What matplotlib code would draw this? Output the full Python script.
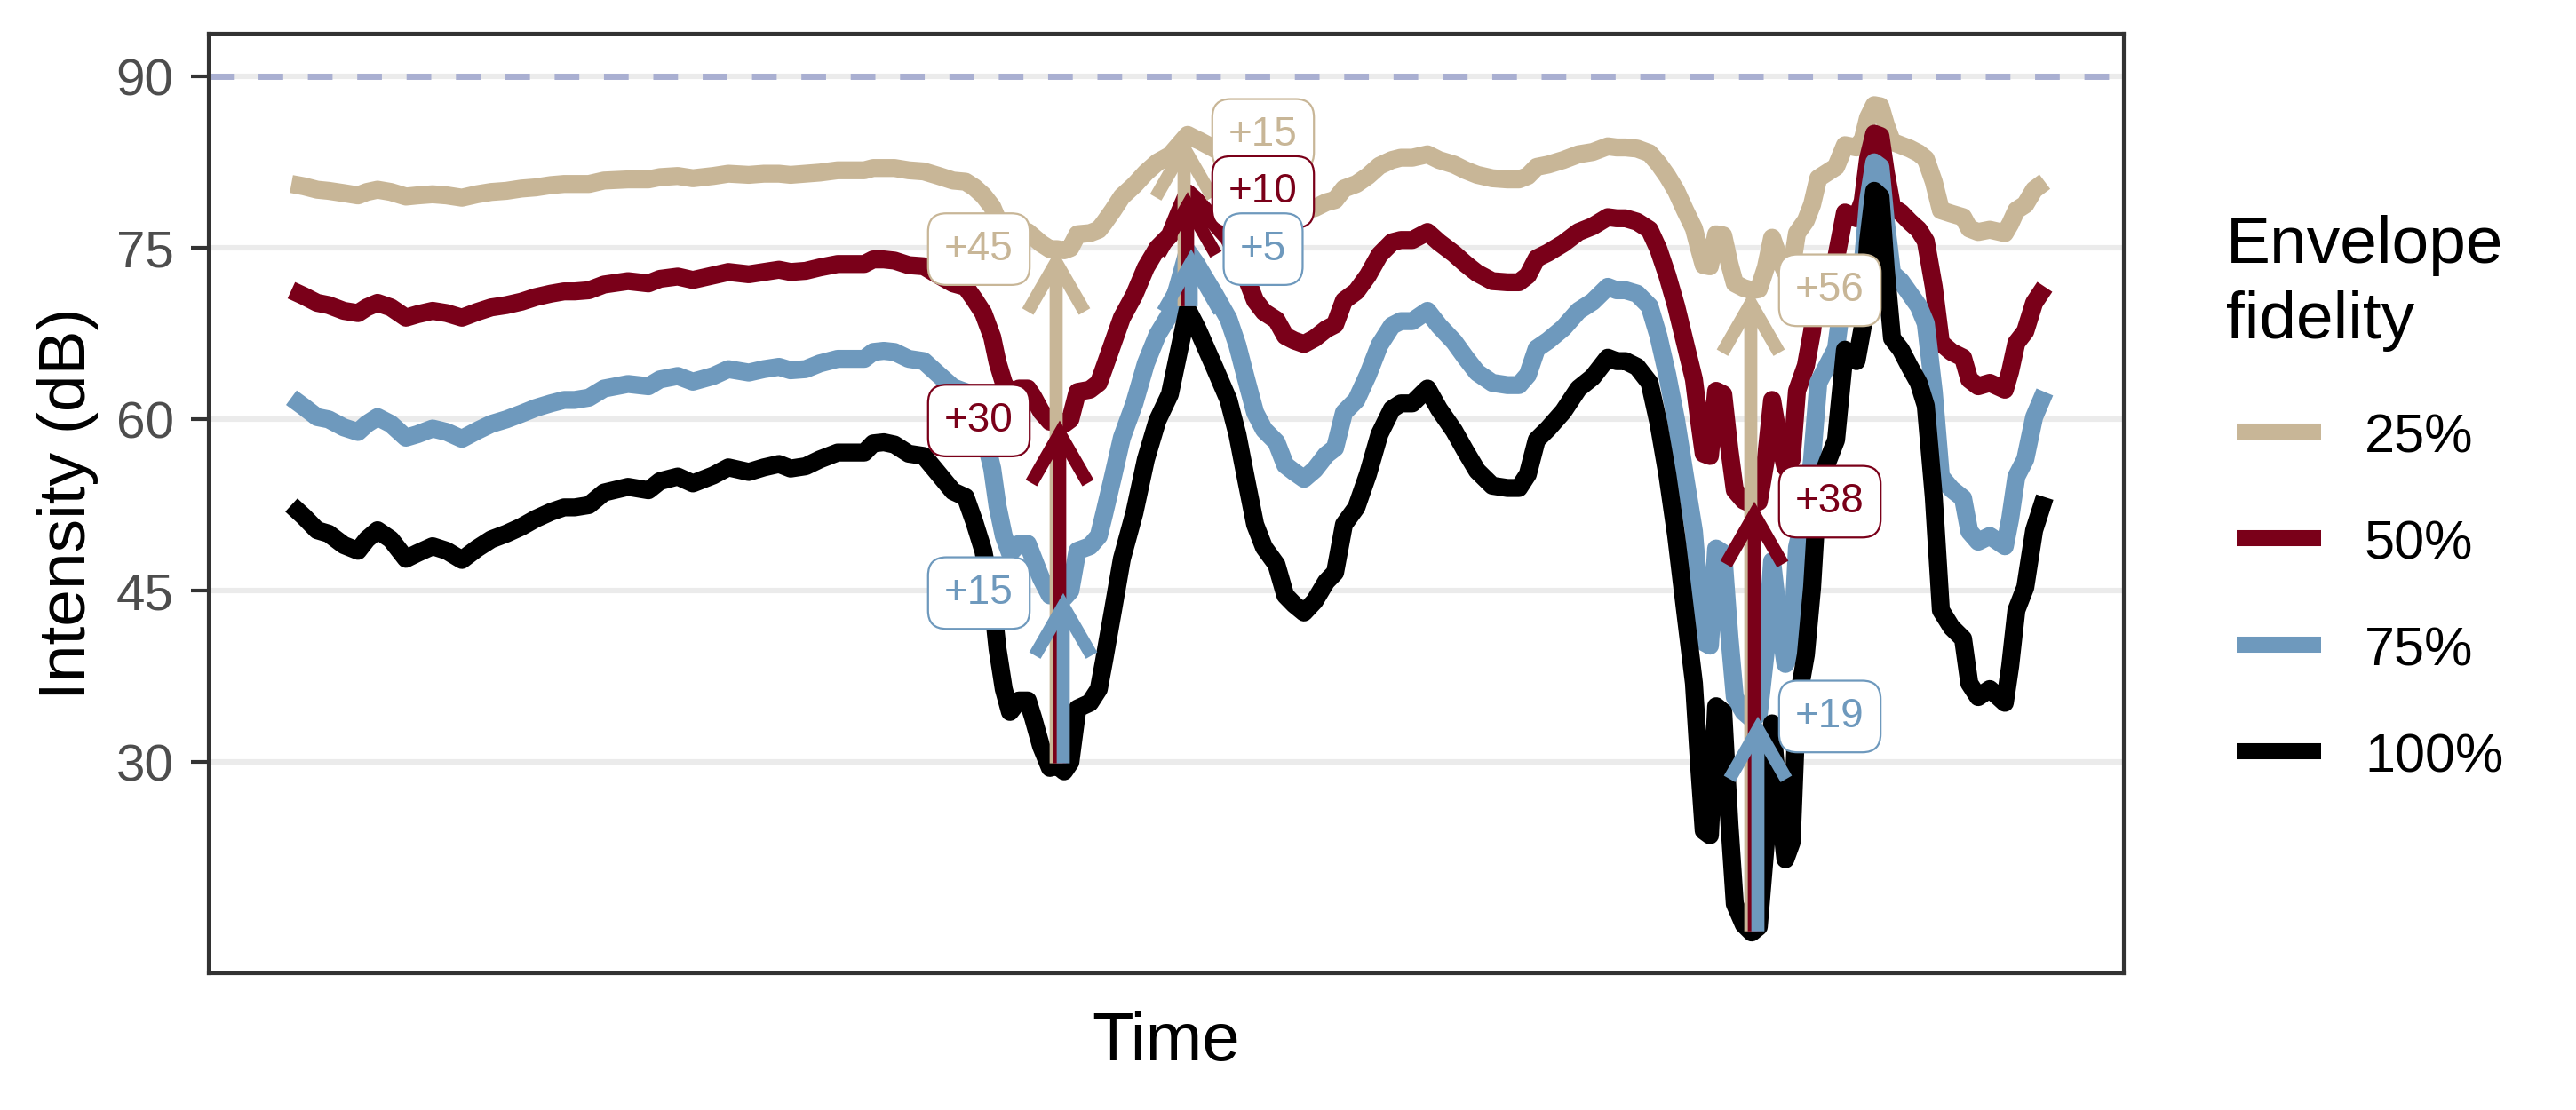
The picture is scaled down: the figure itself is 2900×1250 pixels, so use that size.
import matplotlib
matplotlib.use("Agg")
import matplotlib.pyplot as plt
from matplotlib.lines import Line2D

plt.rcParams['font.family'] = ['Liberation Sans', 'DejaVu Sans']

# ---------------- data ----------------
time_s = [0.00, 0.14, 0.29, 0.42, 0.59, 0.75, 0.85, 0.97, 1.12, 1.29, 1.42, 1.59, 1.75, 1.92, 2.09, 2.25, 2.42, 2.59, 2.75, 2.92,
          3.07, 3.19, 3.35, 3.52, 3.79, 4.02, 4.15, 4.35, 4.52, 4.75, 4.92, 5.15, 5.32, 5.49, 5.62, 5.79, 5.95, 6.15, 6.45, 6.55,
          6.67, 6.79, 6.95, 7.12, 7.29, 7.45, 7.59, 7.69, 7.79, 7.89, 7.95, 8.02, 8.09, 8.19, 8.29, 8.35, 8.44, 8.54, 8.62, 8.70,
          8.77, 8.85, 8.99, 9.09, 9.15, 9.25, 9.35, 9.49, 9.62, 9.75, 9.89, 9.99, 10.09, 10.19,
          10.22, 10.39, 10.55, 10.65, 10.75, 10.85, 10.95, 11.09, 11.19, 11.29, 11.40, 11.52, 11.65, 11.75, 11.85, 11.99, 12.12,
          12.25, 12.39, 12.49, 12.62, 12.79, 12.92, 13.09, 13.22, 13.35, 13.52, 13.69,
          13.82, 13.92, 14.02, 14.15, 14.32, 14.49, 14.65, 14.82, 14.92, 15.02, 15.15, 15.29, 15.39, 15.49, 15.59, 15.69, 15.79,
          15.85, 15.90, 15.97, 16.04, 16.12, 16.19, 16.25, 16.35, 16.44, 16.52, 16.60, 16.67, 16.74, 16.82, 16.89, 16.95, 17.05,
          17.12, 17.19, 17.29, 17.39, 17.49, 17.62, 17.69, 17.75, 17.82, 17.89, 17.95, 18.02, 18.12, 18.22,
          18.32, 18.40, 18.49, 18.57, 18.69, 18.82, 18.89, 18.99, 19.12, 19.29, 19.35, 19.42, 19.52, 19.62, 19.74]

fid_25 = [80.6, 80.4, 80.1, 80.0, 79.8, 79.6, 79.9, 80.1, 79.9, 79.5, 79.6, 79.7, 79.6, 79.4, 79.7, 79.9, 80.0, 80.2, 80.3, 80.5,
          80.6, 80.6, 80.6, 80.9, 81.0, 81.0, 81.2, 81.3, 81.1, 81.3, 81.5, 81.4, 81.5, 81.5, 81.4, 81.5, 81.6, 81.8, 81.8, 82.0,
          82.0, 82.0, 81.8, 81.7, 81.3, 80.9, 80.8, 80.3, 79.6, 78.6, 77.5, 76.6, 76.1, 76.4, 76.4, 76.0, 75.4, 74.9, 74.9, 74.8,
          75.0, 76.2, 76.3, 76.6, 77.2, 78.3, 79.5, 80.5, 81.6, 82.5, 83.1, 84.0, 84.9, 84.5,
          84.4, 83.7, 82.9, 82.2, 81.2, 80.2, 79.7, 79.3, 78.7, 78.5, 78.3, 78.5, 79.0, 79.2, 80.2, 80.6, 81.3, 82.2, 82.7, 82.9,
          82.9, 83.2, 82.7, 82.3, 81.8, 81.4, 81.1, 81.0,
          81.0, 81.3, 82.1, 82.3, 82.7, 83.2, 83.4, 83.9, 83.8, 83.8, 83.7, 83.3, 82.4, 81.3, 80.0, 78.3, 76.7, 74.9, 73.5, 73.4,
          76.2, 76.1, 73.6, 71.9, 71.5, 71.3, 71.4, 73.3, 75.9, 74.3, 72.9, 73.3, 76.3, 77.4, 78.8, 81.1, 81.6, 82.1, 84.0, 83.8,
          84.5, 86.4, 87.5, 87.4, 85.8, 84.3, 84.0, 83.7,
          83.3, 82.8, 80.8, 78.3, 78.0, 77.7, 76.7, 76.4, 76.6, 76.3, 77.1, 78.3, 78.8, 80.1, 80.8]

fid_50 = [71.3, 70.8, 70.2, 70.0, 69.5, 69.3, 69.8, 70.2, 69.8, 68.9, 69.2, 69.5, 69.3, 68.9, 69.4, 69.8, 70.0, 70.3, 70.7, 71.0,
          71.2, 71.2, 71.3, 71.8, 72.1, 71.9, 72.3, 72.5, 72.2, 72.6, 72.9, 72.7, 72.9, 73.1, 72.9, 73.0, 73.3, 73.6, 73.6, 74.0,
          74.0, 73.9, 73.5, 73.4, 72.6, 71.9, 71.6, 70.5, 69.3, 67.2, 65.0, 63.2, 62.2, 62.7, 62.7, 62.0, 60.7, 59.8, 59.9, 59.6,
          60.0, 62.4, 62.6, 63.2, 64.5, 66.7, 68.9, 70.9, 73.3, 75.0, 76.1, 78.0, 79.8, 79.1,
          78.8, 77.3, 75.9, 74.4, 72.4, 70.4, 69.4, 68.7, 67.3, 66.9, 66.6, 67.1, 67.9, 68.3, 70.4, 71.2, 72.6, 74.4, 75.5, 75.7,
          75.7, 76.4, 75.5, 74.5, 73.6, 72.8, 72.1, 72.0,
          72.0, 72.6, 74.1, 74.6, 75.4, 76.4, 76.9, 77.7, 77.6, 77.6, 77.3, 76.6, 74.9, 72.6, 69.9, 66.7, 63.5, 59.8, 57.0, 56.8,
          62.5, 62.2, 57.3, 53.8, 52.9, 52.6, 52.8, 56.5, 61.7, 58.5, 55.8, 56.5, 62.5, 64.7, 67.7, 72.1, 73.1, 74.1, 78.1, 77.6,
          79.1, 82.8, 85.0, 84.8, 81.6, 78.6, 78.1, 77.3,
          76.6, 75.6, 71.6, 66.7, 65.9, 65.4, 63.5, 62.9, 63.2, 62.6, 64.2, 66.7, 67.7, 70.2, 71.6]

fid_75 = [61.9, 61.1, 60.2, 60.0, 59.3, 58.9, 59.6, 60.2, 59.6, 58.4, 58.7, 59.2, 58.9, 58.3, 59.0, 59.6, 60.0, 60.5, 61.0, 61.4,
          61.7, 61.7, 61.9, 62.7, 63.1, 62.9, 63.5, 63.8, 63.3, 63.8, 64.4, 64.1, 64.4, 64.6, 64.3, 64.4, 64.9, 65.3, 65.3, 65.9,
          66.0, 65.9, 65.3, 65.1, 63.9, 62.8, 62.4, 60.8, 58.9, 55.7, 52.4, 49.8, 48.3, 49.1, 49.1, 47.9, 46.1, 44.6, 44.8, 44.4,
          45.0, 48.5, 48.9, 49.8, 51.7, 55.0, 58.4, 61.4, 64.9, 67.4, 69.2, 71.9, 74.7, 73.6,
          73.2, 71.0, 68.8, 66.5, 63.5, 60.6, 59.1, 58.0, 56.0, 55.4, 54.8, 55.6, 56.9, 57.5, 60.6, 61.7, 63.9, 66.5, 68.2, 68.6,
          68.6, 69.5, 68.2, 66.8, 65.4, 64.1, 63.2, 63.0,
          63.0, 63.9, 66.2, 66.9, 68.0, 69.5, 70.3, 71.6, 71.3, 71.3, 71.0, 69.9, 67.3, 63.9, 59.9, 55.0, 50.2, 44.6, 40.5, 40.2,
          48.7, 48.3, 40.9, 35.7, 34.4, 33.8, 34.2, 39.8, 47.6, 42.8, 38.6, 39.8, 48.8, 52.1, 56.5, 63.2, 64.7, 66.2, 72.1, 71.3,
          73.6, 79.1, 82.5, 82.1, 77.3, 72.8, 72.1, 71.0,
          69.9, 68.4, 62.4, 55.0, 53.9, 53.1, 50.2, 49.3, 49.8, 48.9, 51.3, 55.0, 56.5, 60.2, 62.4]

fid_100 = [52.5, 51.5, 50.3, 50.0, 49.0, 48.5, 49.5, 50.3, 49.5, 47.8, 48.3, 48.9, 48.5, 47.7, 48.7, 49.5, 50.0, 50.6, 51.3, 51.9,
           52.3, 52.3, 52.5, 53.6, 54.1, 53.8, 54.6, 55.0, 54.4, 55.1, 55.8, 55.4, 55.8, 56.1, 55.7, 55.9, 56.5, 57.1, 57.1, 57.9,
           58.0, 57.8, 57.0, 56.8, 55.2, 53.7, 53.2, 51.0, 48.5, 44.3, 39.9, 36.4, 34.4, 35.4, 35.4, 33.9, 31.4, 29.5, 29.7, 29.2,
           30.0, 34.7, 35.2, 36.4, 38.9, 43.3, 47.8, 51.8, 56.5, 59.9, 62.2, 65.9, 69.6, 68.1,
           67.6, 64.6, 61.7, 58.7, 54.7, 50.8, 48.8, 47.3, 44.6, 43.8, 43.1, 44.1, 45.8, 46.6, 50.8, 52.3, 55.2, 58.7, 60.9, 61.4,
           61.4, 62.7, 60.9, 59.0, 57.2, 55.5, 54.2, 54.0,
           54.0, 55.2, 58.2, 59.2, 60.7, 62.7, 63.7, 65.4, 65.1, 65.1, 64.6, 63.2, 59.7, 55.2, 49.8, 43.3, 36.9, 29.5, 24.0, 23.6,
           34.9, 34.4, 24.5, 17.6, 15.8, 15.1, 15.6, 23.0, 33.4, 27.0, 21.5, 23.0, 35.0, 39.4, 45.3, 54.2, 56.2, 58.2, 66.1, 65.1,
           68.1, 75.5, 80.0, 79.5, 73.1, 67.1, 66.1, 64.6,
           63.2, 61.2, 53.2, 43.3, 41.8, 40.8, 36.9, 35.7, 36.4, 35.2, 38.4, 43.3, 45.3, 50.3, 53.2]

series_labels = ["25%", "50%", "75%", "100%"]
series_colors = ["#C8B697", "#7A0019", "#6E99BD", "#000000"]
reference_level = 90

# annotations: time of event, base (100% level) and tops of 25/50/75% series
ann_time = [8.65, 10.09, 16.47]
ann_base = [29.9, 69.9, 15.2]
ann_top_25 = [74.9, 84.9, 71.3]
ann_top_50 = [59.9, 79.9, 52.8]
ann_top_75 = [44.8, 74.9, 34.0]
ann_text_25 = ["+45", "+15", "+56"]
ann_text_50 = ["+30", "+10", "+38"]
ann_text_75 = ["+15", "+5", "+19"]
ann_side = ["left", "right", "right"]

yticks = [30, 45, 60, 75, 90]

# ---------------- figure ----------------
W, H = 2900, 1250
fig = plt.figure(figsize=(W / 200, H / 200), dpi=200)
ax = fig.add_axes([235 / W, 1 - 1096 / H, (2391 - 235) / W, (1096 - 38) / H])

ax.set_xlim(-0.93, 20.63)
ax.set_ylim(11.53, 93.75)
ax.set_xticks([])
ax.set_yticks(yticks)
ax.set_yticklabels([str(v) for v in yticks])
ax.grid(axis='y', color='#EBEBEB', lw=2.2)
ax.set_axisbelow(True)
for s in ax.spines.values():
    s.set_color('#333333')
    s.set_linewidth(1.5)
ax.tick_params(axis='y', length=7.2, width=1.5, color='#333333', pad=7,
               labelsize=21, labelcolor='#4D4D4D')

ax.axhline(reference_level, color='#A9AFD1', lw=2.5, dashes=(4, 4), zorder=1.5)

all_series = [fid_25, fid_50, fid_75, fid_100]
for vals, col in zip(all_series, series_colors):
    ax.plot(time_s, vals, color=col, lw=7.3, solid_joinstyle='round',
            solid_capstyle='butt', zorder=2)

# arrows + labels
dodge = [-0.04, 0.0, 0.04]
tops = [ann_top_25, ann_top_50, ann_top_75]
texts = [ann_text_25, ann_text_50, ann_text_75]
label_dx = {"left": -0.91, "right": 0.85}
for k in range(len(ann_time)):
    for j in range(3):
        col = series_colors[j]
        x = ann_time[k] + dodge[j]
        ax.annotate('', xy=(x, tops[j][k]), xytext=(x, ann_base[k]),
                    arrowprops=dict(arrowstyle='->,head_length=2.0,head_width=1.15',
                                    lw=5.3, color=col, shrinkA=0, shrinkB=0,
                                    mutation_scale=10, joinstyle='miter',
                                    capstyle='butt'),
                    zorder=3 + j * 0.1)
    for j in range(3):
        col = series_colors[j]
        lx = ann_time[k] + label_dx[ann_side[k]]
        ax.text(lx, tops[j][k], texts[j][k], color=col, fontsize=16.5,
                ha='center', va='center', zorder=5,
                bbox=dict(boxstyle='round,pad=0.4,rounding_size=0.45',
                          fc='white', ec=col, lw=0.8))

# axis titles
fig.text(95.7 / W, 1 - 567 / H, 'Intensity (dB)', rotation=90, rotation_mode='anchor',
         ha='center', va='baseline', fontsize=27)
fig.text(1313 / W, 1 - 1194 / H, 'Time', ha='center', va='baseline', fontsize=27.5)

# legend
fig.text(2506 / W, 1 - 296 / H, 'Envelope', ha='left', va='baseline', fontsize=27)
fig.text(2506 / W, 1 - 381 / H, 'fidelity', ha='left', va='baseline', fontsize=27)
for i, (lab, col) in enumerate(zip(series_labels, series_colors)):
    ky = 486 + 120 * i
    fig.add_artist(Line2D([2518 / W, 2613 / W], [1 - ky / H, 1 - ky / H], color=col,
                          lw=6.5, solid_capstyle='butt'))
    fig.text(2662 / W, 1 - (ky + 24) / H, lab, ha='left', va='baseline', fontsize=22)

fig.savefig('out.png', dpi=200, facecolor='white')
